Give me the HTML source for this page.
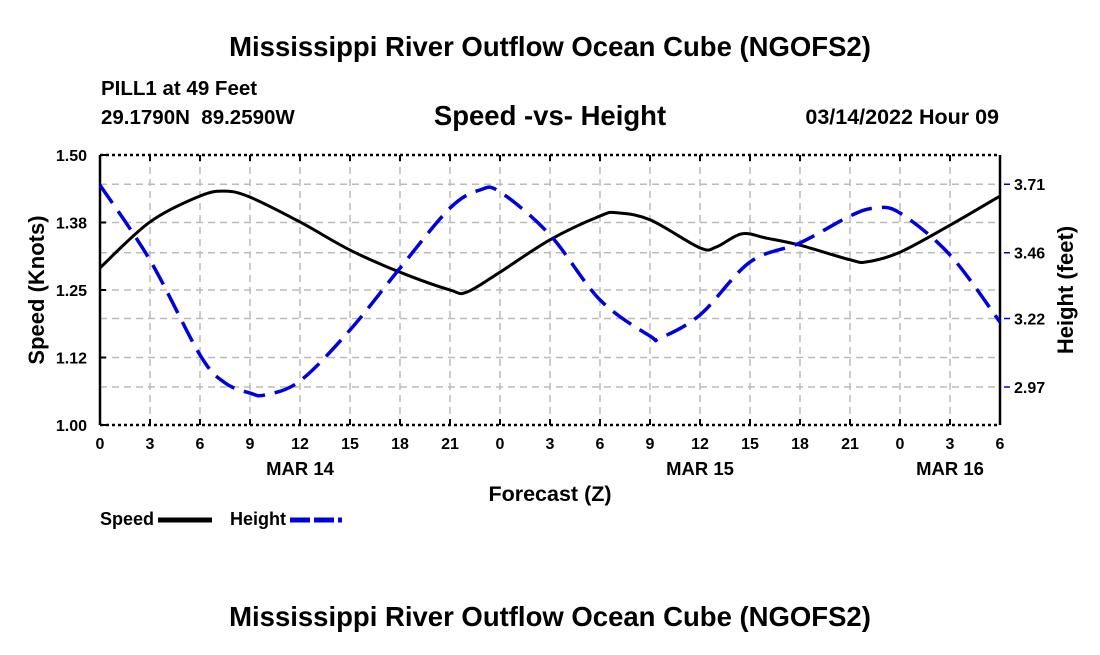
<!DOCTYPE html>
<html><head><meta charset="utf-8"><style>
body{margin:0;background:#fff;width:1100px;height:650px;overflow:hidden}
svg text{font-family:"Liberation Sans",Arial,sans-serif;font-weight:bold}
</style></head><body>
<svg id="c" width="1100" height="650" xmlns="http://www.w3.org/2000/svg">
<text x="550" y="56" font-size="27.5" text-anchor="middle">Mississippi River Outflow Ocean Cube (NGOFS2)</text>
<text x="101" y="95" font-size="20.5">PILL1 at 49 Feet</text>
<text x="101" y="124" font-size="20.5" xml:space="preserve" style="white-space:pre">29.1790N  89.2590W</text>
<text x="550" y="125" font-size="27.5" text-anchor="middle">Speed -vs- Height</text>
<text x="999" y="124" font-size="21.5" text-anchor="end">03/14/2022 Hour 09</text>
<g id="grid"></g>
<g id="axes"></g>
<path id="speed" fill="none" stroke="#000" stroke-width="3"/>
<path id="height" fill="none" stroke="#0000dd" stroke-width="3.5" stroke-dasharray="22,10"/>
<text x="550" y="501" font-size="21.5" text-anchor="middle">Forecast (Z)</text>
<text transform="translate(44,290) rotate(-90)" font-size="22" text-anchor="middle">Speed (Knots)</text>
<text transform="translate(1073,290) rotate(-90)" font-size="22" text-anchor="middle">Height (feet)</text>
<g>
<text x="100" y="525" font-size="18">Speed</text>
<line x1="158" y1="520" x2="212" y2="520" stroke="#000" stroke-width="5"/>
<text x="230" y="525" font-size="18">Height</text>
<line x1="290" y1="520" x2="342" y2="520" stroke="#0000dd" stroke-width="5" stroke-dasharray="20,4"/>
</g>
<text x="550" y="626" font-size="27.5" text-anchor="middle">Mississippi River Outflow Ocean Cube (NGOFS2)</text>
</svg>
<script>
const speedHours=[0,3,6,7.5,9,12,15,18,21,22,24,27,30,31,33,36,37,38.5,40,42,45,46,48,51,54];
const speedVals=[1.291,1.376,1.424,1.433,1.422,1.376,1.324,1.283,1.250,1.246,1.283,1.343,1.387,1.393,1.380,1.328,1.330,1.354,1.346,1.333,1.306,1.302,1.320,1.370,1.424];
const heightHours=[0,3,6,7.5,9,9.9,12,15,18,21,22.8,24,27,30,33,33.6,36,39,42,45,46.5,48,51,54];
const heightVals=[3.707,3.433,3.087,2.985,2.948,2.941,2.992,3.178,3.404,3.623,3.689,3.682,3.525,3.288,3.156,3.149,3.233,3.426,3.496,3.594,3.623,3.605,3.452,3.207];
const xTickLabels=["0","3","6","9","12","15","18","21","0","3","6","9","12","15","18","21","0","3","6"];
const leftTicks=[1.00,1.125,1.25,1.375,1.50];
const leftTickLabels=["1.00","1.12","1.25","1.38","1.50"];
const rightTicks=[2.97,3.22,3.46,3.71];
const dayLabels=["MAR 14","MAR 15","MAR 16"];
const dayHours=[12,36,51];
const X0=100,X1=1000,Y0=425,Y1=155;
const xs=h=>X0+(h/54)*(X1-X0);
const ysL=v=>Y0-(v-1.0)/0.5*(Y0-Y1);
const ysR=v=>387-(v-2.97)*274;
const NS="http://www.w3.org/2000/svg";
function mk(tag,attrs,parent,txt){const e=document.createElementNS(NS,tag);for(const k in attrs)e.setAttribute(k,attrs[k]);if(txt!==undefined)e.textContent=txt;parent.appendChild(e);return e;}
const grid=document.getElementById('grid'),axes=document.getElementById('axes');
const gs={stroke:"#bbb","stroke-width":1.5,"stroke-dasharray":"7,5"};
xTickLabels.forEach((l,i)=>{const x=xs(i*3);
 if(i>0&&i<18){const g=mk('line',Object.assign({x1:x,x2:x,y1:Y1,y2:Y0},gs),grid);
 
 }
 const t=mk('text',{x:x,y:449,"font-size":16,"text-anchor":"middle"},axes,l);
 
 
 mk('line',{x1:x,x2:x,y1:Y0,y2:Y0-6,stroke:"#000","stroke-width":2},axes);
 mk('line',{x1:x,x2:x,y1:Y1,y2:Y1+6,stroke:"#000","stroke-width":2},axes);
});
dayLabels.forEach((l,i)=>{const t=mk('text',{x:xs(dayHours[i]),y:475,"font-size":18.5,"text-anchor":"middle"},axes,l);
 
 });
leftTicks.forEach((v,i)=>{const y=ysL(v);
 if(i>0&&i<4){const g=mk('line',Object.assign({x1:X0,x2:X1,y1:y,y2:y},gs),grid);
 
 }
 mk('line',{x1:X0,x2:X0+6,y1:y,y2:y,stroke:"#000","stroke-width":2},axes);
 const t=mk('text',{x:87,y:y+6,"font-size":16,"text-anchor":"end"},axes,leftTickLabels[i]);
 
 });
rightTicks.forEach(v=>{const y=ysR(v);
 const g=mk('line',Object.assign({x1:X0,x2:X1,y1:y,y2:y},gs),grid);
 
 
 mk('line',{x1:X1+4,x2:X1+10,y1:y,y2:y,stroke:"#0000cc","stroke-width":1.5},axes);
 const t=mk('text',{x:1014,y:y+6,"font-size":16},axes,v.toFixed(2));
 
 });
mk('line',{x1:X0,x2:X1,y1:Y1,y2:Y1,stroke:"#000","stroke-width":2.5,"stroke-dasharray":"3,3"},axes);
mk('line',{x1:X0,x2:X1,y1:Y0,y2:Y0,stroke:"#000","stroke-width":2.5,"stroke-dasharray":"3,3"},axes);
mk('line',{x1:X0,x2:X0,y1:Y1,y2:Y0,stroke:"#000","stroke-width":2.5},axes);
mk('line',{x1:X1,x2:X1,y1:Y1,y2:Y0,stroke:"#000","stroke-width":2.5},axes);
function spline(pts){let d=`M${pts[0][0]},${pts[0][1]}`;
 for(let i=0;i<pts.length-1;i++){const p0=pts[i-1]||pts[i],p1=pts[i],p2=pts[i+1],p3=pts[i+2]||p2;
 const c1=[p1[0]+(p2[0]-p0[0])/6,p1[1]+(p2[1]-p0[1])/6],c2=[p2[0]-(p3[0]-p1[0])/6,p2[1]-(p3[1]-p1[1])/6];
 d+=`C${c1[0]},${c1[1]} ${c2[0]},${c2[1]} ${p2[0]},${p2[1]}`;}return d;}
document.getElementById('speed').setAttribute('d',spline(speedHours.map((h,i)=>[xs(h),ysL(speedVals[i])])));
document.getElementById('height').setAttribute('d',spline(heightHours.map((h,i)=>[xs(h),ysR(heightVals[i])])));
</script>
</body></html>
